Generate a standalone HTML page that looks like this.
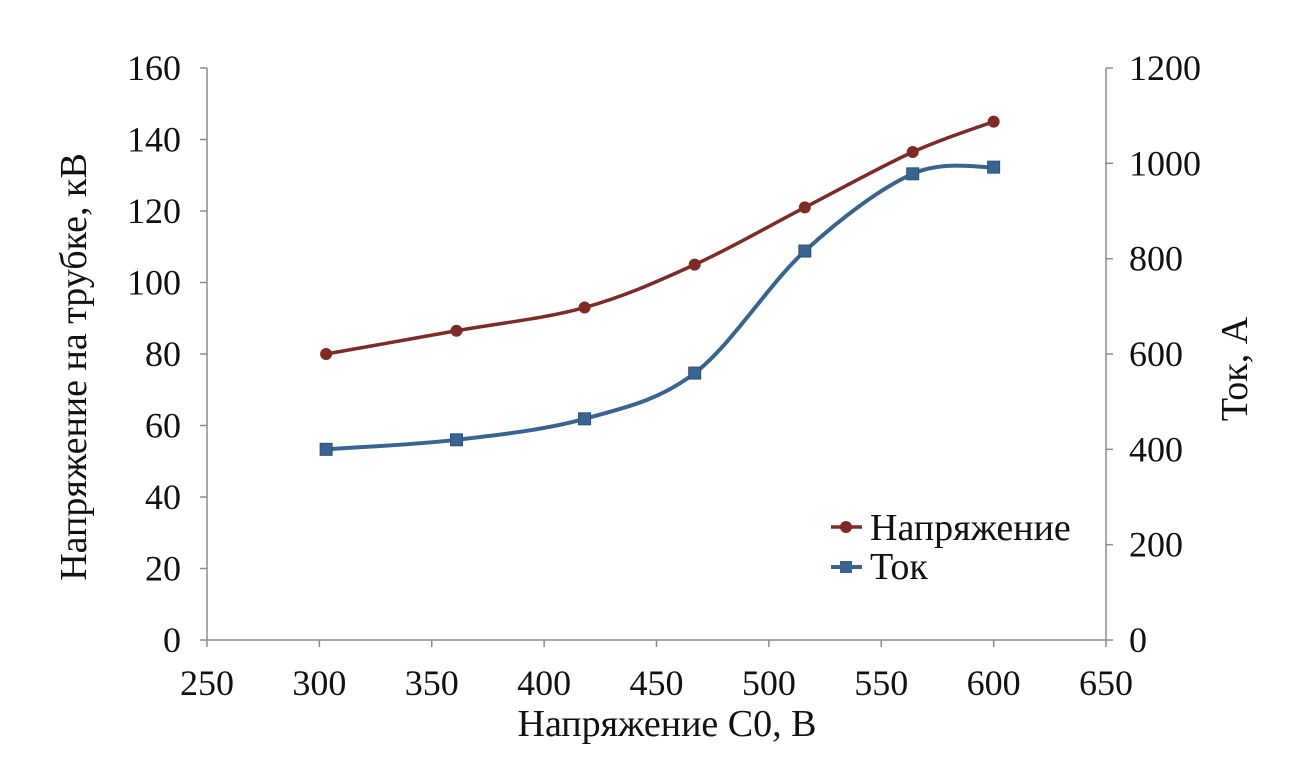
<!DOCTYPE html>
<html><head><meta charset="utf-8"><style>
html,body{margin:0;padding:0;background:#fff;}
svg{display:block;font-family:"Liberation Serif",serif;}
</style></head><body>
<svg id="chart" width="1294" height="771">
<g id="axes"></g><g id="series"></g>
</svg>
<script>
const xTicks=[250,300,350,400,450,500,550,600,650];
const yLeftTicks=[0,20,40,60,80,100,120,140,160];
const yRightTicks=[0,200,400,600,800,1000,1200];
const xValues=[303,361,418,467,516,564,600];
const voltageValues=[80,86.5,93,105,121,136.5,145];
const currentValues=[400,420,464,560,816,978,992];

const L=207,R=1106,T=68,B=640;
const sx=v=>L+(v-250)/400*(R-L);
const syL=v=>B-v/160*(B-T);
const syR=v=>B-v/1200*(B-T);
const NS="http://www.w3.org/2000/svg";
const axes=document.getElementById('axes'),ser=document.getElementById('series');
function mk(tag,attrs,parent,text){const e=document.createElementNS(NS,tag);for(const k in attrs)e.setAttribute(k,attrs[k]);if(text!==undefined)e.textContent=text;parent.appendChild(e);return e;}
const ax='#8c8c8c';
let e;
e=mk('line',{x1:L,y1:T,x2:L,y2:B,stroke:ax,'stroke-width':1.5},axes);


e=mk('line',{x1:R,y1:T,x2:R,y2:B,stroke:ax,'stroke-width':1.5},axes);


e=mk('line',{x1:L,y1:B,x2:R,y2:B,stroke:ax,'stroke-width':1.5},axes);


xTicks.forEach(v=>{const x=sx(v);mk('line',{x1:x,y1:B,x2:x,y2:B+7,stroke:ax,'stroke-width':1.5},axes);
 e=mk('text',{x:x,y:B+55,'text-anchor':'middle','font-size':36,fill:'#111'},axes,v);
 
 });
yLeftTicks.forEach(v=>{const y=syL(v);mk('line',{x1:L-7,y1:y,x2:L,y2:y,stroke:ax,'stroke-width':1.5},axes);
 e=mk('text',{x:181,y:y+12,'text-anchor':'end','font-size':36,fill:'#111'},axes,v);
 
 });
yRightTicks.forEach(v=>{const y=syR(v);mk('line',{x1:R,y1:y,x2:R+7,y2:y,stroke:ax,'stroke-width':1.5},axes);
 e=mk('text',{x:1129,y:y+12,'text-anchor':'start','font-size':36,fill:'#111'},axes,v);
 
 });
e=mk('text',{x:667,y:736,'text-anchor':'middle','font-size':38,fill:'#111'},axes,'Напряжение С0, В');


e=mk('text',{x:0,y:0,'text-anchor':'middle','font-size':38,fill:'#111',transform:'translate(86,367) rotate(-90)'},axes,'Напряжение на трубке, кВ');


e=mk('text',{x:0,y:0,'text-anchor':'middle','font-size':38,fill:'#111',transform:'translate(1247,369) rotate(-90)'},axes,'Ток, А');



function smooth(pts){let d=`M${pts[0][0]},${pts[0][1]}`;const t=1/6;
 for(let i=0;i<pts.length-1;i++){const p0=pts[i-1]||pts[i],p1=pts[i],p2=pts[i+1],p3=pts[i+2]||p2;
  d+=` C${p1[0]+(p2[0]-p0[0])*t},${p1[1]+(p2[1]-p0[1])*t} ${p2[0]-(p3[0]-p1[0])*t},${p2[1]-(p3[1]-p1[1])*t} ${p2[0]},${p2[1]}`;}
 return d;}
const vp=xValues.map((x,i)=>[sx(x),syL(voltageValues[i])]);
const cp=xValues.map((x,i)=>[sx(x),syR(currentValues[i])]);
e=mk('path',{d:smooth(vp),fill:'none',stroke:'#7f2a27','stroke-width':3.5},ser);


vp.forEach(p=>{e=mk('circle',{cx:p[0],cy:p[1],r:6,fill:'#7f2a27'},ser);
 
 });
e=mk('path',{d:smooth(cp),fill:'none',stroke:'#3a6490','stroke-width':4},ser);


cp.forEach(p=>{e=mk('rect',{x:p[0]-6,y:p[1]-6,width:12,height:12,fill:'#3a6490',stroke:'#2d5078','stroke-width':1},ser);
 
 });
const lg=mk('g',{},ser);


mk('line',{x1:831,y1:527,x2:862,y2:527,stroke:'#7f2a27','stroke-width':3.5},lg);
mk('circle',{cx:846,cy:527,r:6,fill:'#7f2a27'},lg);
e=mk('text',{x:870,y:540,'font-size':38,fill:'#111'},lg,'Напряжение');


mk('line',{x1:831,y1:567,x2:862,y2:567,stroke:'#3a6490','stroke-width':4},lg);
mk('rect',{x:840,y:561,width:12,height:12,fill:'#3a6490'},lg);
e=mk('text',{x:870,y:579,'font-size':38,fill:'#111'},lg,'Ток');


</script>
</body></html>
